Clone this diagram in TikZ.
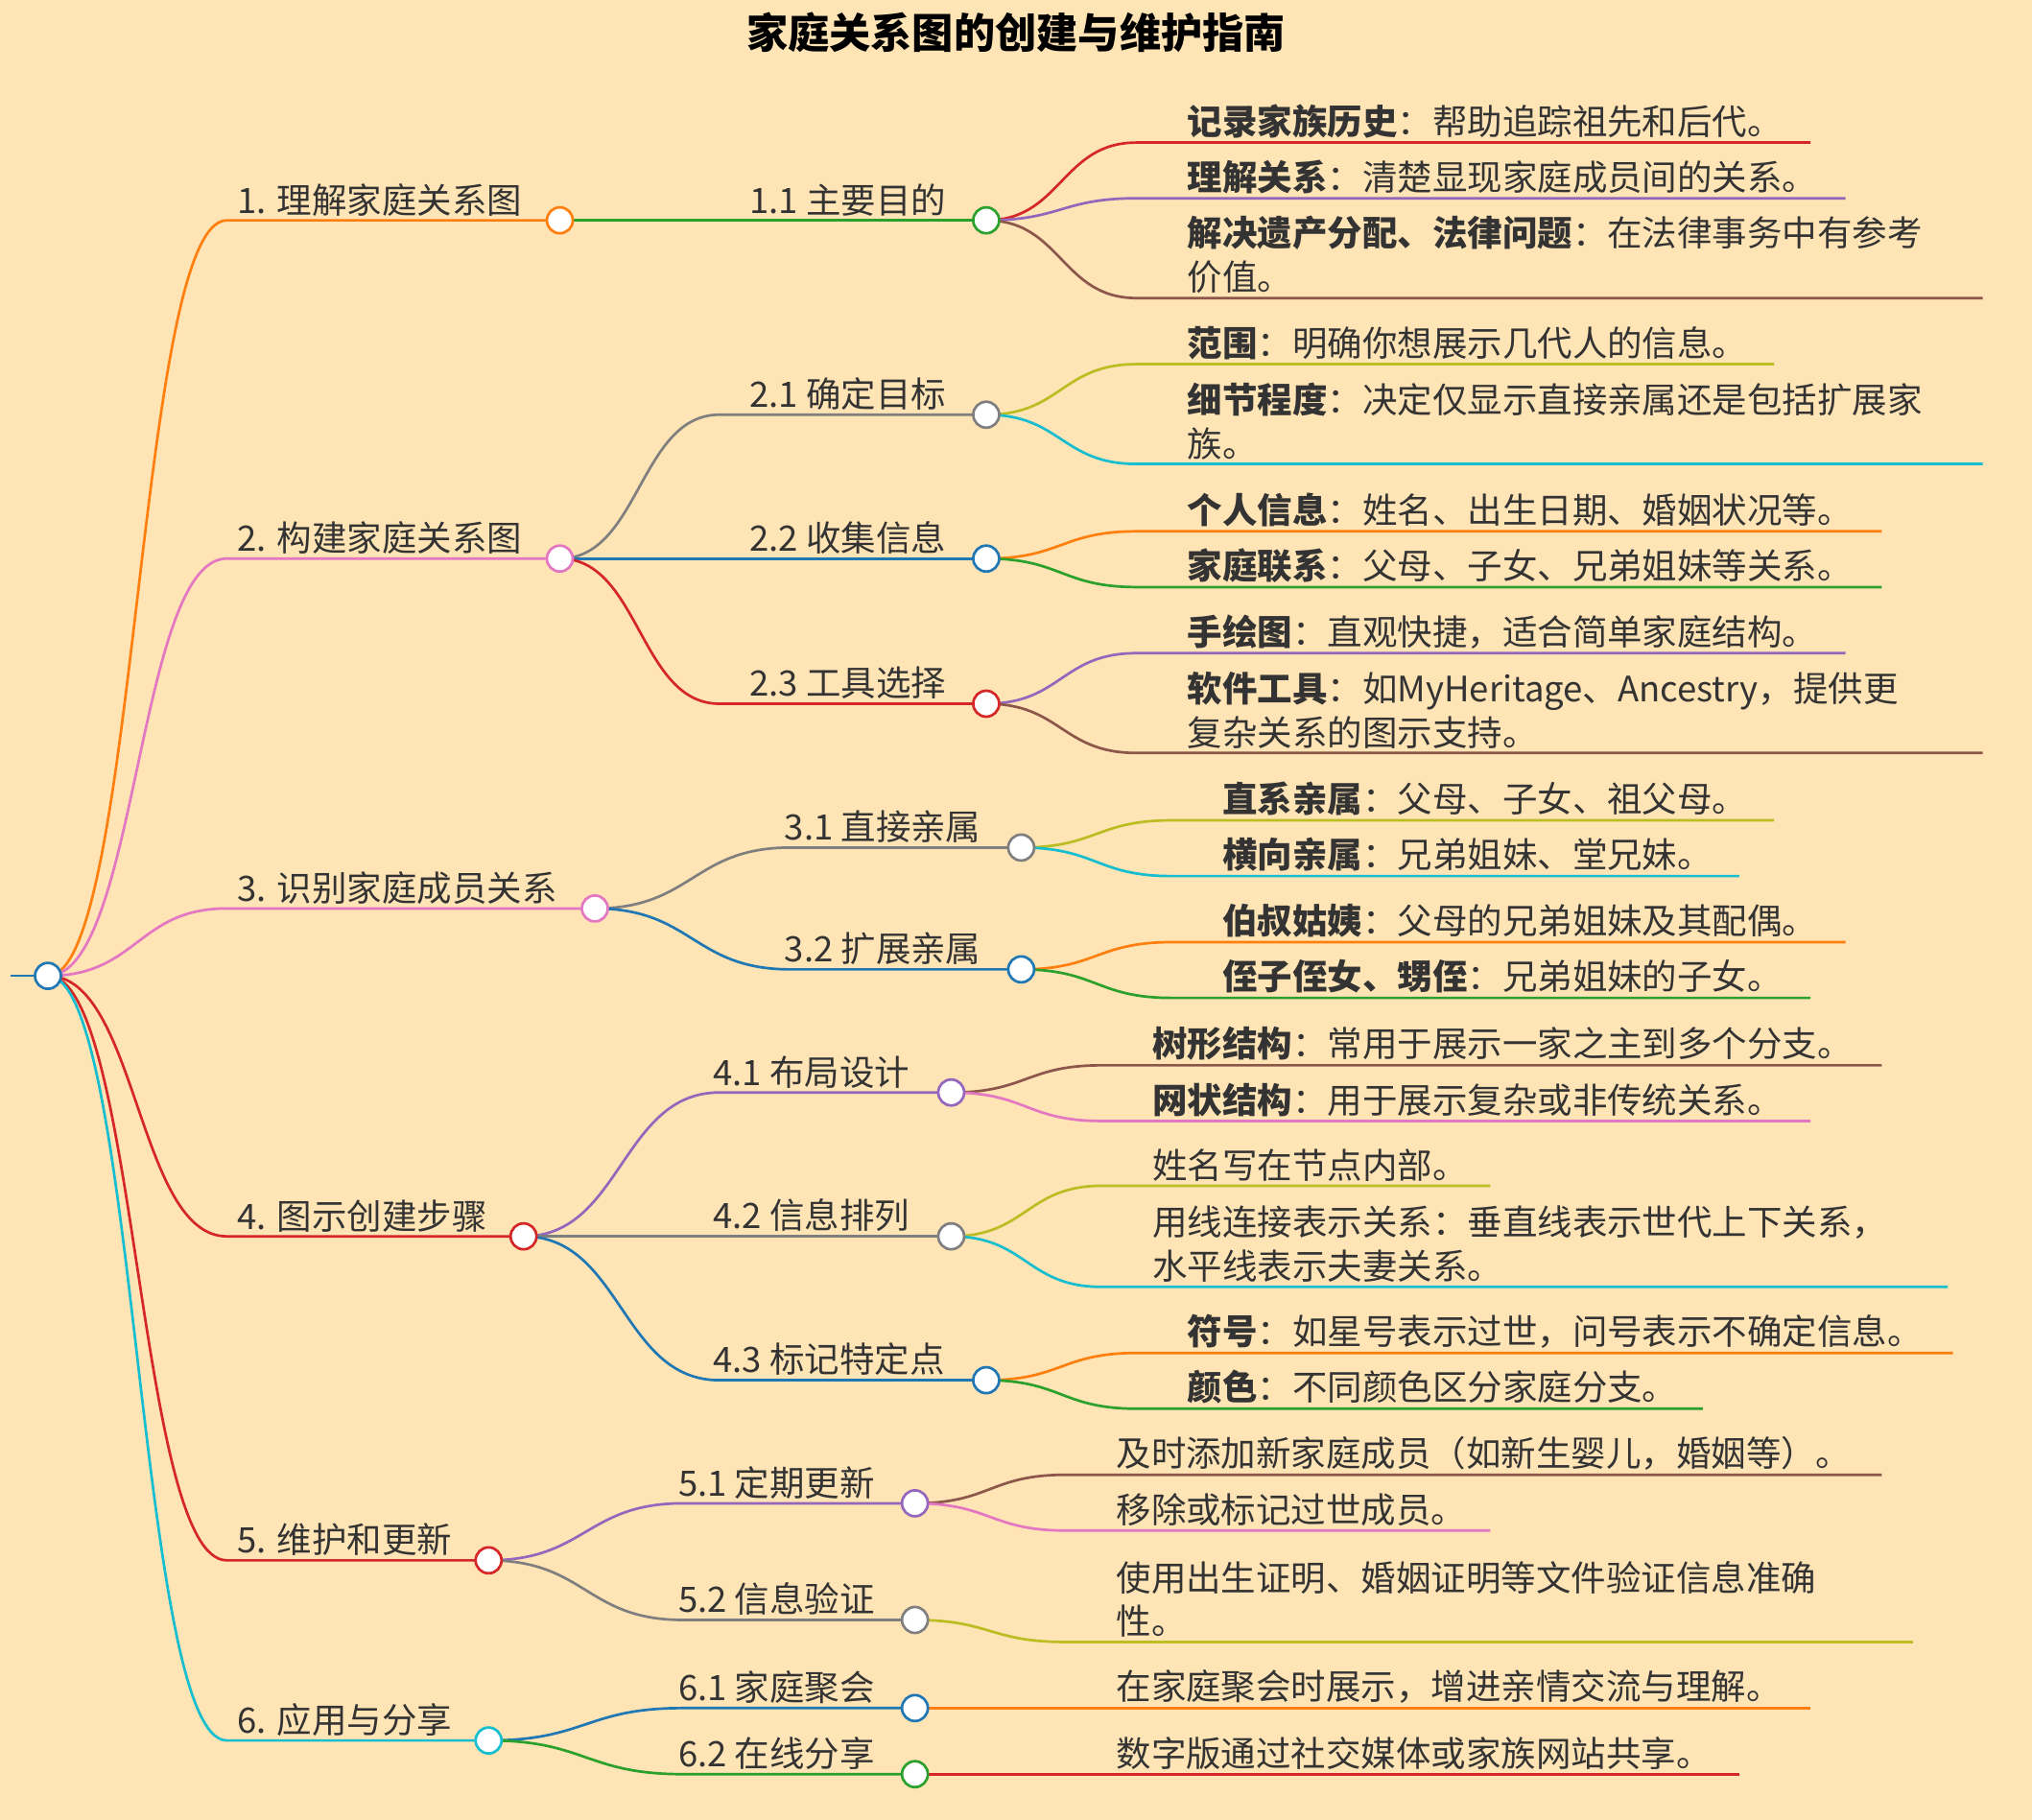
\documentclass[tikz,border=0pt]{standalone}
\usepackage{fontspec}
\setmainfont{Noto Sans CJK SC}
\definecolor{bg}{HTML}{FFE4B5}
\definecolor{cO}{HTML}{FF7F0E}
\definecolor{cG}{HTML}{2CA02C}
\definecolor{cR}{HTML}{D62728}
\definecolor{cP}{HTML}{9467BD}
\definecolor{cB}{HTML}{1F77B4}
\definecolor{cK}{HTML}{E377C2}
\definecolor{cY}{HTML}{7F7F7F}
\definecolor{cL}{HTML}{BCBD22}
\definecolor{cC}{HTML}{17BECF}
\definecolor{cN}{HTML}{8C564B}
\definecolor{tx}{HTML}{333333}
\tikzset{
 dot/.style={circle,draw=#1,fill=white,line width=1pt,minimum size=10pt,inner sep=0pt},
 lbl/.style={anchor=south west,inner sep=1.5pt,text=tx,font=\fontsize{13.5}{17}\selectfont,align=left},
 br/.style={line width=1pt,#1}
}
% \conn{x1}{y1}{x2}{y2}{xend}{color}
\newcommand\conn[6]{\draw[br=#6] (#1,#2) .. controls ({(#1+#2*0+#3)/2},#2) and ({(#1+#3)/2},#4) .. (#3,#4) -- (#5,#4);}
\newcommand\leaf[7]{\conn{#1}{#2}{#3}{#4}{#5}{#6}\node[lbl] at ({#3+36},#4) {#7};}
\begin{document}
\begin{tikzpicture}[x=0.5pt,y=-0.5pt]
\fill[bg] (0,0) rectangle (1568,1404);
\useasboundingbox (0,0) rectangle (1568,1404);
\node[font=\fontsize{16}{18}\selectfont\bfseries] (title) at (784,25) {家庭关系图的创建与维护指南};
\draw[br=cB] (8,753) -- (37,753);
% level 1
\conn{37}{753}{175}{170}{432}{cO}
\conn{37}{753}{175}{431}{432}{cK}
\conn{37}{753}{175}{701}{459}{cK}
\conn{37}{753}{175}{954}{404}{cR}
\conn{37}{753}{175}{1204}{377}{cR}
\conn{37}{753}{175}{1343}{377}{cC}
\node[lbl] at (180,170) {1. 理解家庭关系图};
\node[lbl] at (180,431) {2. 构建家庭关系图};
\node[lbl] at (180,701) {3. 识别家庭成员关系};
\node[lbl] at (180,954) {4. 图示创建步骤};
\node[lbl] at (180,1204) {5. 维护和更新};
\node[lbl] at (180,1343) {6. 应用与分享};
% level 2
\conn{432}{170}{575}{170}{761}{cG}
\conn{432}{431}{555}{320}{761}{cY}
\conn{432}{431}{555}{431}{761}{cB}
\conn{432}{431}{555}{543}{761}{cR}
\conn{459}{701}{610}{654}{788}{cY}
\conn{459}{701}{610}{748}{788}{cB}
\conn{404}{954}{555}{843}{734}{cP}
\conn{404}{954}{555}{954}{734}{cY}
\conn{404}{954}{555}{1065}{761}{cB}
\conn{377}{1204}{527}{1160}{706}{cP}
\conn{377}{1204}{527}{1250}{706}{cY}
\conn{377}{1343}{527}{1318}{706}{cB}
\conn{377}{1343}{527}{1369}{706}{cG}
\node[lbl] at (575,170) {1.1 主要目的};
\node[lbl] at (575,320) {2.1 确定目标};
\node[lbl] at (575,431) {2.2 收集信息};
\node[lbl] at (575,543) {2.3 工具选择};
\node[lbl] at (602,654) {3.1 直接亲属};
\node[lbl] at (602,748) {3.2 扩展亲属};
\node[lbl] at (547,843) {4.1 布局设计};
\node[lbl] at (547,954) {4.2 信息排列};
\node[lbl] at (547,1065) {4.3 标记特定点};
\node[lbl] at (520,1160) {5.1 定期更新};
\node[lbl] at (520,1250) {5.2 信息验证};
\node[lbl] at (520,1318) {6.1 家庭聚会};
\node[lbl] at (520,1369) {6.2 在线分享};
% leaves
\leaf{761}{170}{877}{110}{1397}{cR}{\textbf{记录家族历史}：帮助追踪祖先和后代。}
\leaf{761}{170}{877}{153}{1424}{cP}{\textbf{理解关系}：清楚显现家庭成员间的关系。}
\leaf{761}{170}{877}{230}{1530}{cN}{\textbf{解决遗产分配、法律问题}：在法律事务中有参考\\价值。}
\leaf{761}{320}{877}{281}{1369}{cL}{\textbf{范围}：明确你想展示几代人的信息。}
\leaf{761}{320}{877}{358}{1530}{cC}{\textbf{细节程度}：决定仅显示直接亲属还是包括扩展家\\族。}
\leaf{761}{431}{877}{410}{1452}{cO}{\textbf{个人信息}：姓名、出生日期、婚姻状况等。}
\leaf{761}{431}{877}{453}{1452}{cG}{\textbf{家庭联系}：父母、子女、兄弟姐妹等关系。}
\leaf{761}{543}{877}{504}{1424}{cP}{\textbf{手绘图}：直观快捷，适合简单家庭结构。}
\leaf{761}{543}{877}{581}{1530}{cN}{\textbf{软件工具}：如MyHeritage、Ancestry，提供更\\复杂关系的图示支持。}
\leaf{788}{654}{904}{633}{1369}{cL}{\textbf{直系亲属}：父母、子女、祖父母。}
\leaf{788}{654}{904}{676}{1342}{cC}{\textbf{横向亲属}：兄弟姐妹、堂兄妹。}
\leaf{788}{748}{904}{727}{1424}{cO}{\textbf{伯叔姑姨}：父母的兄弟姐妹及其配偶。}
\leaf{788}{748}{904}{770}{1397}{cG}{\textbf{侄子侄女、甥侄}：兄弟姐妹的子女。}
\leaf{734}{843}{850}{822}{1452}{cN}{\textbf{树形结构}：常用于展示一家之主到多个分支。}
\leaf{734}{843}{850}{865}{1397}{cK}{\textbf{网状结构}：用于展示复杂或非传统关系。}
\leaf{734}{954}{850}{915}{1150}{cL}{姓名写在节点内部。}
\leaf{734}{954}{850}{993}{1503}{cC}{用线连接表示关系：垂直线表示世代上下关系，\\水平线表示夫妻关系。}
\leaf{761}{1065}{877}{1044}{1507}{cO}{\textbf{符号}：如星号表示过世，问号表示不确定信息。}
\leaf{761}{1065}{877}{1087}{1314}{cG}{\textbf{颜色}：不同颜色区分家庭分支。}
\leaf{706}{1160}{822}{1138}{1452}{cN}{及时添加新家庭成员（如新生婴儿，婚姻等）。}
\leaf{706}{1160}{822}{1181}{1150}{cK}{移除或标记过世成员。}
\leaf{706}{1250}{822}{1267}{1476}{cL}{使用出生证明、婚姻证明等文件验证信息准确\\性。}
\leaf{706}{1318}{822}{1318}{1397}{cO}{在家庭聚会时展示，增进亲情交流与理解。}
\leaf{706}{1369}{822}{1369}{1342}{cR}{数字版通过社交媒体或家族网站共享。}
% dots
\node[dot=cB] (root) at (37,753) {};
\node[dot=cO] (n1) at (432,170) {};
\node[dot=cK] (n2) at (432,431) {};
\node[dot=cK] (n3) at (459,701) {};
\node[dot=cR] (n4) at (404,954) {};
\node[dot=cR] (n5) at (377,1204) {};
\node[dot=cC] (n6) at (377,1343) {};
\node[dot=cG] at (761,170) {};
\node[dot=cY] at (761,320) {};
\node[dot=cB] at (761,431) {};
\node[dot=cR] at (761,543) {};
\node[dot=cY] at (788,654) {};
\node[dot=cB] at (788,748) {};
\node[dot=cP] at (734,843) {};
\node[dot=cY] at (734,954) {};
\node[dot=cB] at (761,1065) {};
\node[dot=cP] at (706,1160) {};
\node[dot=cY] at (706,1250) {};
\node[dot=cB] at (706,1318) {};
\node[dot=cG] at (706,1369) {};
\end{tikzpicture}
\end{document}
